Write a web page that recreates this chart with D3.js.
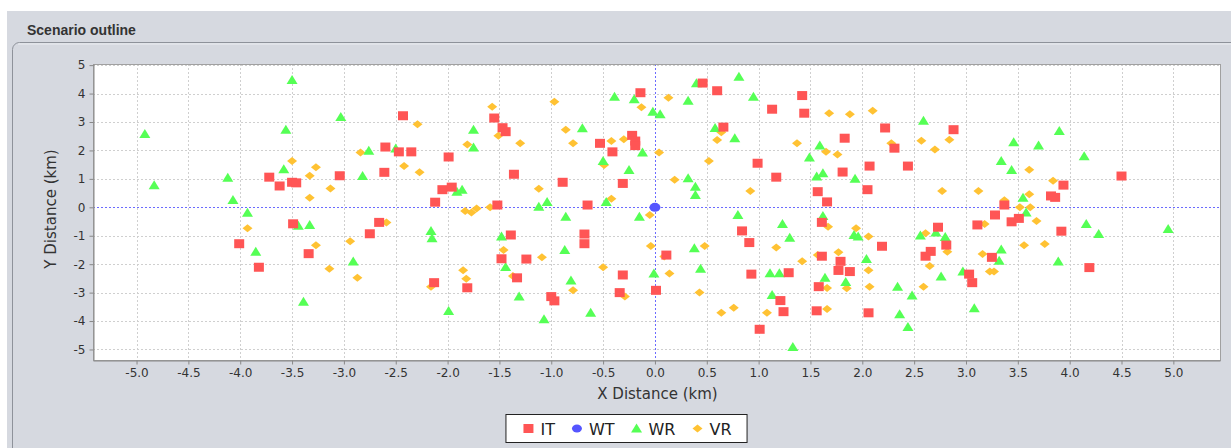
<!DOCTYPE html>
<html>
<head>
<meta charset="utf-8">
<script src="https://cdn.jsdelivr.net/npm/d3@7"></script>
<style>
  body { margin: 0; background: #fff; }
  text { font-family: "DejaVu Sans", sans-serif; }
</style>
</head>
<body>
<svg id="chart"></svg>
<script>
// series data (km)
var itX = [-4.01,-3.82,-3.72,-3.62,-3.50,-3.46,-3.49,-3.34,-3.04,-2.61,-2.60,-2.47,-2.35,-2.43,-2.66,-2.75,-1.99,-2.05,-1.96,-2.12,-2.13,-1.81,-1.55,-1.47,-1.44,-1.36,-0.89,-1.52,-0.65,-0.31,-0.53,-0.41,-0.22,-0.19,-0.19,-0.14,0.11,0.01,-0.31,-0.34,-0.68,-0.68,-1.24,-1.48,-1.39,-1.33,-1.00,-0.97,0.46,0.60,1.13,1.42,1.44,0.66,1.83,0.99,1.17,1.81,1.57,1.66,0.84,0.91,1.61,0.93,1.29,1.21,1.24,1.01,1.61,1.79,1.77,1.88,1.58,1.56,2.22,2.31,2.88,2.07,2.44,2.05,2.19,2.06,2.73,2.81,2.66,2.61,3.03,3.06,3.25,3.11,3.28,3.37,3.44,3.51,4.50,3.94,3.82,3.86,3.92,4.19];
var itY = [-1.28,-2.11,1.06,0.75,0.88,0.86,-0.58,-1.63,1.11,1.23,2.12,1.95,1.95,3.22,-0.53,-0.93,1.77,0.62,0.71,0.18,-2.65,-2.83,3.14,2.80,2.66,1.16,0.88,0.08,0.08,0.84,2.25,1.95,2.53,2.33,2.17,4.03,-1.68,-2.92,-2.38,-3.00,-0.94,-1.28,-1.82,-1.81,-0.97,-2.48,-3.14,-3.29,4.37,4.10,3.45,3.93,3.31,2.82,2.43,1.55,1.06,1.24,0.55,0.19,-0.83,-1.24,-0.53,-2.35,-2.30,-3.28,-3.67,-4.29,-1.72,-1.90,-2.22,-2.26,-2.79,-3.64,2.79,2.08,2.73,1.45,1.45,0.62,-1.37,-3.71,-0.70,-1.33,-1.55,-1.72,-2.35,-2.65,-1.76,-0.62,-0.27,0.08,-0.51,-0.39,1.10,0.78,0.40,0.35,-0.84,-2.12];

var wtX = [0];
var wtY = [0];

var wrX = [-4.92,-4.83,-4.12,-4.07,-3.93,-3.85,-3.58,-3.56,-3.50,-3.03,-3.44,-3.33,-3.39,-2.76,-2.82,-2.50,-2.91,-1.75,-1.75,-1.91,-1.86,-2.16,-2.15,-1.99,-0.70,-1.12,-1.04,-0.86,-0.47,-0.25,-0.50,-0.12,-0.39,-0.20,-0.02,0.05,-0.15,-0.01,-0.62,-0.81,-0.87,-1.48,-1.44,-1.31,-1.07,0.40,0.81,0.32,0.95,0.58,0.77,1.59,1.49,0.32,0.39,0.39,1.56,1.62,1.93,0.80,1.23,1.30,1.62,1.92,1.96,0.38,0.44,1.11,1.20,1.13,1.33,1.64,1.84,2.59,3.34,3.44,3.46,3.70,2.04,2.34,2.48,2.36,2.44,2.76,2.56,2.71,2.80,2.97,3.08,3.34,3.32,3.55,3.58,3.90,4.14,4.16,4.28,4.95,3.89];
var wrY = [2.58,0.78,1.04,0.26,-0.19,-1.56,1.34,2.73,4.48,3.18,-0.65,-0.62,-3.32,1.99,1.10,2.07,-1.91,2.73,2.10,0.55,0.62,-0.83,-1.09,-3.65,2.78,0.02,0.19,-0.33,0.19,1.31,1.63,1.93,3.89,3.80,3.36,3.27,-0.33,-2.33,-3.71,-2.57,-1.50,-1.03,-2.10,-3.14,-3.94,4.36,4.59,3.75,3.89,2.79,2.43,2.17,1.75,1.02,0.72,0.43,1.08,1.20,1.00,-0.27,-0.59,-1.07,-0.31,-0.97,-1.03,-1.44,-2.16,-2.32,-2.32,-3.08,-4.91,-2.48,-2.63,3.04,1.63,1.31,2.29,2.17,-1.82,-2.79,-3.10,-3.76,-4.21,-2.43,-0.99,-0.89,-1.04,-2.26,-3.55,-1.48,-1.88,0.34,-0.18,2.68,1.80,-0.59,-0.94,-0.76,-1.91];

var vrX = [-3.93,-3.50,-3.27,-3.33,-3.33,-3.13,-3.27,-3.14,-2.84,-2.29,-2.42,-2.27,-2.59,-2.94,-2.87,-1.81,-1.83,-1.77,-1.72,-1.59,-2.16,-1.85,-1.82,-1.57,-1.51,-1.30,-0.97,-0.86,-0.79,-1.12,-0.42,-0.49,-0.42,-0.30,0.04,-0.13,0.13,-0.05,-0.04,0.14,-0.29,-0.50,-0.79,-1.09,-1.46,-1.37,0.09,0.64,0.60,1.37,1.65,1.76,1.68,1.88,0.52,0.92,0.19,1.67,1.94,1.17,0.48,0.43,0.64,0.76,1.08,1.42,1.57,1.77,1.66,1.85,1.66,2.10,2.28,2.57,2.70,2.84,2.77,3.12,3.61,2.06,2.06,2.07,2.59,2.65,2.61,2.82,3.16,3.23,3.27,3.18,3.37,3.52,3.62,3.61,3.68,3.56,3.76,3.84];
var vrY = [-0.74,1.63,1.41,1.11,0.34,0.66,-1.33,-2.16,1.93,2.92,1.45,1.23,-0.53,-1.19,-2.48,2.21,-0.13,-0.18,-0.04,0.00,-2.79,-2.21,-2.51,3.54,2.52,2.25,3.71,2.73,2.25,0.65,0.30,1.49,2.33,2.39,1.93,3.52,3.85,-0.27,-1.36,-2.33,-3.14,-2.11,-2.92,-1.76,-1.50,-2.42,-1.73,2.64,2.37,2.25,1.95,1.86,3.31,3.27,1.63,0.57,0.97,-0.68,-0.74,-1.41,-1.36,-3.00,-3.71,-3.53,-3.71,-1.90,-1.68,-1.58,-2.84,-2.85,-3.58,3.40,2.25,2.34,2.03,2.38,0.57,0.57,1.32,-1.03,-2.21,-2.79,-2.79,-2.06,-0.91,-1.56,-1.64,-2.26,-2.26,-0.59,0.25,0.00,0.00,0.46,-0.48,-1.33,-1.29,0.93];

var seriesNames = ["IT", "WT", "WR", "VR"];
var xTicks = d3.range(-10, 11).map(function(d) { return d / 2; });
var yTicks = d3.range(-5, 6);

var W = 1231, H = 448;
var plot = { left: 93, right: 1220, top: 64, bottom: 360 };

var svg = d3.select('#chart').attr('width', W).attr('height', H);

// background panels
svg.append('rect').attr('width', W).attr('height', H).attr('fill', '#fff');
svg.append('rect').attr('x', 7).attr('y', 11).attr('width', W - 7).attr('height', H - 11).attr('fill', '#d6d9e0');
svg.append('text').attr('x', 27).attr('y', 35)
  .style('font-family', '"Liberation Sans", Arial, sans-serif')
  .style('font-weight', 'bold').style('font-size', '14px').attr('fill', '#333')
  .text('Scenario outline');
svg.append('rect').attr('x', 12.5).attr('y', 42.5).attr('width', W).attr('height', H)
  .attr('rx', 7).attr('fill', '#d6d9e0').attr('stroke', '#8e929a');
svg.append('line').attr('x1', 18).attr('x2', W).attr('y1', 44).attr('y2', 44).attr('stroke', '#eceef2');

var x = d3.scaleLinear().domain([-5.42, 5.45]).range([plot.left, plot.right]);
var y = d3.scaleLinear().domain([-5.37, 5.04]).range([plot.bottom, plot.top]);

svg.append('rect').attr('x', plot.left).attr('y', plot.top)
  .attr('width', plot.right - plot.left).attr('height', plot.bottom - plot.top)
  .attr('fill', '#fff');

// grid
var grid = svg.append('g').attr('shape-rendering', 'crispEdges');
grid.selectAll('.gx').data(xTicks).enter().append('line')
  .attr('x1', function(d) { return Math.round(x(d)) + 0.5; })
  .attr('x2', function(d) { return Math.round(x(d)) + 0.5; })
  .attr('y1', plot.top).attr('y2', plot.bottom)
  .attr('stroke', '#cfcfcf').attr('stroke-dasharray', '2,2');
grid.selectAll('.gy').data(yTicks).enter().append('line')
  .attr('y1', function(d) { return Math.round(y(d)) + 0.5; })
  .attr('y2', function(d) { return Math.round(y(d)) + 0.5; })
  .attr('x1', plot.left).attr('x2', plot.right)
  .attr('stroke', '#cfcfcf').attr('stroke-dasharray', '2,2');

// zero cross lines
var zero = svg.append('g').attr('shape-rendering', 'crispEdges');
zero.append('line').attr('x1', Math.round(x(0)) + 0.5).attr('x2', Math.round(x(0)) + 0.5)
  .attr('y1', plot.top).attr('y2', plot.bottom)
  .attr('stroke', '#6b6bff').attr('stroke-dasharray', '2,2');
zero.append('line').attr('y1', Math.round(y(0)) + 0.5).attr('y2', Math.round(y(0)) + 0.5)
  .attr('x1', plot.left).attr('x2', plot.right)
  .attr('stroke', '#6b6bff').attr('stroke-dasharray', '2,2');

// plot border
svg.append('rect').attr('x', plot.left + 0.5).attr('y', plot.top + 0.5)
  .attr('width', plot.right - plot.left).attr('height', plot.bottom - plot.top)
  .attr('fill', 'none').attr('stroke', '#a0a0a0');

// axes
var xAxis = svg.append('g').attr('transform', 'translate(0,' + (plot.bottom + 0.5) + ')')
  .call(d3.axisBottom(x).tickValues(xTicks).tickFormat(function(d) { return d.toFixed(1); }).tickSize(4).tickSizeOuter(0).tickPadding(4));
var yAxis = svg.append('g').attr('transform', 'translate(' + (plot.left + 0.5) + ',0)')
  .call(d3.axisLeft(y).tickValues(yTicks).tickFormat(function(d) { return String(d); }).tickSize(4).tickSizeOuter(0).tickPadding(4));
[xAxis, yAxis].forEach(function(a) {
  a.select('.domain').attr('stroke', '#888');
  a.selectAll('.tick line').attr('stroke', '#888');
  a.selectAll('.tick text').attr('fill', '#333').style('font-size', '12px').style('font-family', '"DejaVu Sans", sans-serif');
});

svg.append('text').attr('x', (plot.left + plot.right) / 2 + 1).attr('y', 399)
  .attr('text-anchor', 'middle').style('font-size', '15px').attr('fill', '#333')
  .text('X Distance (km)');
svg.append('text').attr('transform', 'translate(56,' + 209 + ') rotate(-90)')
  .attr('text-anchor', 'middle').style('font-size', '15px').attr('fill', '#333')
  .text('Y Distance (km)');

// marker shapes
var colors = { IT: '#ff5555', WT: '#5555ff', WR: '#55ff55', VR: '#ffc233' };
function shapePath(name, cx, cy) {
  if (name === 'IT') return 'M' + (cx - 5) + ',' + (cy - 4.5) + 'h10v9h-10z';
  if (name === 'WR') return 'M' + cx + ',' + (cy - 5) + 'L' + (cx + 5.5) + ',' + (cy + 4) + 'L' + (cx - 5.5) + ',' + (cy + 4) + 'Z';
  if (name === 'VR') return 'M' + cx + ',' + (cy - 4) + 'L' + (cx + 5) + ',' + cy + 'L' + cx + ',' + (cy + 4) + 'L' + (cx - 5) + ',' + cy + 'Z';
  return null;
}

var seriesData = {
  IT: itX.map(function(v, i) { return [v, itY[i]]; }),
  WT: wtX.map(function(v, i) { return [v, wtY[i]]; }),
  WR: wrX.map(function(v, i) { return [v, wrY[i]]; }),
  VR: vrX.map(function(v, i) { return [v, vrY[i]]; })
};

var marks = svg.append('g');
// drawn in reverse series order, first series ends on top
seriesNames.slice().reverse().forEach(function(name) {
  var g = marks.append('g').attr('fill', colors[name]);
  if (name === 'WT') {
    g.selectAll('ellipse').data(seriesData[name]).enter().append('ellipse')
      .attr('cx', function(d) { return x(d[0]); })
      .attr('cy', function(d) { return y(d[1]); })
      .attr('rx', 5.5).attr('ry', 4.5);
  } else {
    g.selectAll('path').data(seriesData[name]).enter().append('path')
      .attr('d', function(d) { return shapePath(name, x(d[0]), y(d[1])); });
  }
});

// legend
var legend = svg.append('g');
var legendBox = legend.append('rect').attr('fill', '#fff').attr('stroke', '#222');
var items = legend.append('g');
var cursor = 0;
seriesNames.forEach(function(name) {
  var it = items.append('g').attr('transform', 'translate(' + cursor + ',0)');
  if (name === 'WT') {
    it.append('ellipse').attr('cx', 5).attr('cy', 0).attr('rx', 5).attr('ry', 4).attr('fill', colors[name]);
  } else {
    it.append('path').attr('d', shapePath(name, 5, 0)).attr('fill', colors[name]);
  }
  var t = it.append('text').attr('x', 17).attr('y', 6).style('font-size', '16px').attr('fill', '#222').text(name);
  cursor += 17 + t.node().getComputedTextLength() + 17;
});
cursor -= 17;
var cx = 627.5, cy = 428.5;
items.attr('transform', 'translate(' + (cx - cursor / 2) + ',' + cy + ')');
legendBox.attr('x', cx - cursor / 2 - 17.5).attr('y', 414.5).attr('width', cursor + 33).attr('height', 28);
</script>
</body>
</html>
